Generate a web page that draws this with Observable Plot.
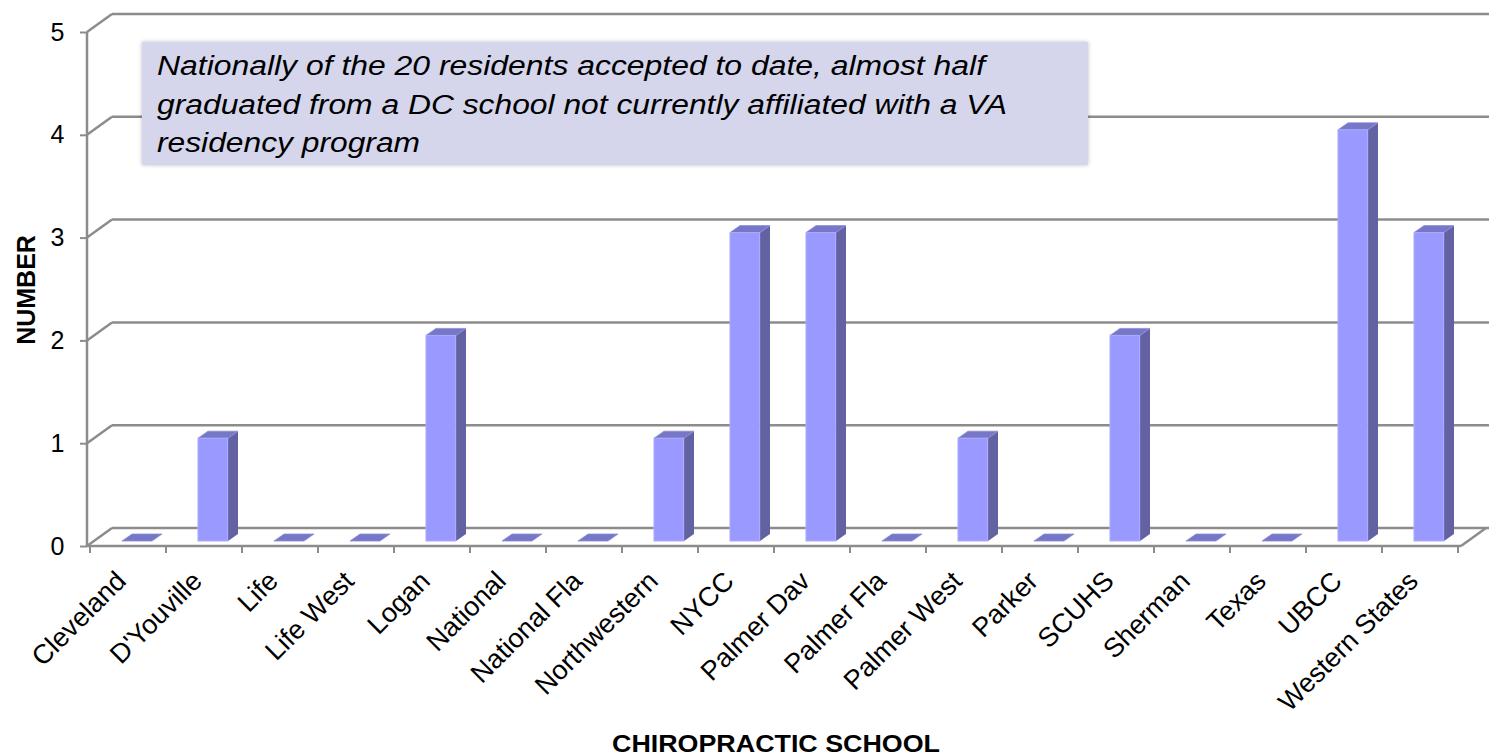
<!DOCTYPE html>
<html><head><meta charset="utf-8">
<script src="https://cdn.jsdelivr.net/npm/d3@7"></script>
<script src="https://cdn.jsdelivr.net/npm/@observablehq/plot@0.6"></script>
<style>body{margin:0;background:#fff}</style>
</head><body><div id="chart"></div>
<script>
const schools = ["Cleveland","D'Youville","Life","Life West","Logan","National","National Fla","Northwestern","NYCC","Palmer Dav","Palmer Fla","Palmer West","Parker","SCUHS","Sherman","Texas","UBCC","Western States"];
const residents = [0,1,0,0,2,0,0,1,3,3,0,1,0,2,0,0,4,3];
const yTicks = [0,1,2,3,4,5];
const noteLines = ["Nationally of the 20 residents accepted to date, almost half","graduated from a DC school not currently affiliated with a VA","residency program"];
const xTitle = "CHIROPRACTIC SCHOOL";
const yTitle = "NUMBER";

const data = schools.map((s, i) => ({school: s, value: residents[i]}));

const FONT = "'Liberation Sans', Arial, sans-serif";
const GRID = "#8c8c8c";
const WALL = {dx: 25, dy: -18};
const BAR = {left: 32, width: 30, dy: -5, dx: 10, ddy: -7};

function bw(scales, dim) {
  return scales.x.bandwidth ? scales.x.bandwidth() : (dim.width - dim.marginLeft - dim.marginRight) / schools.length;
}

// back walls, gridlines, front axis lines and x ticks
function walls(index, scales, values, dim) {
  const g = d3.create("svg:g").attr("stroke", GRID).attr("stroke-width", 2.5).attr("fill", "none");
  const x0 = dim.marginLeft, x1 = dim.width - dim.marginRight;
  const y0 = scales.y(0);
  for (const t of yTicks) {
    const y = scales.y(t);
    g.append("line").attr("x1", x0).attr("y1", y).attr("x2", x0 + WALL.dx).attr("y2", y + WALL.dy);
    g.append("line").attr("x1", x0 + WALL.dx).attr("y1", y + WALL.dy).attr("x2", x1 + WALL.dx + 5).attr("y2", y + WALL.dy);
  }
  g.append("line").attr("x1", x1).attr("y1", y0).attr("x2", x1 + WALL.dx).attr("y2", y0 + WALL.dy);
  g.append("line").attr("x1", x0).attr("y1", scales.y(5)).attr("x2", x0).attr("y2", y0);
  g.append("line").attr("x1", x0).attr("y1", y0).attr("x2", x1).attr("y2", y0);
  const w = bw(scales, dim);
  for (let i = 0; i <= schools.length; i++) {
    const x = i < schools.length ? scales.x(schools[i]) : scales.x(schools[i - 1]) + w;
    g.append("line").attr("x1", x).attr("y1", y0).attr("x2", x).attr("y2", y0 + 7).attr("stroke-width", 2);
  }
  return g.node();
}

// side and top faces of 3D bars
function barSides(index, scales, values, dim) {
  const g = d3.create("svg:g");
  const y0 = scales.y(0) + BAR.dy;
  for (const d of data) {
    const xl = scales.x(d.school) + BAR.left, xr = xl + BAR.width;
    const yt = scales.y(d.value) + BAR.dy;
    if (d.value > 0) {
      g.append("path").attr("fill", "#6262a2")
        .attr("d", `M${xr},${yt}L${xr + BAR.dx},${yt + BAR.ddy}L${xr + BAR.dx},${y0 + BAR.ddy}L${xr},${y0}Z`);
    }
    g.append("path").attr("fill", "#7777c8").attr("stroke", "#8c8cdc").attr("stroke-width", 0.8)
      .attr("d", `M${xl},${yt}L${xl + BAR.dx},${yt + BAR.ddy}L${xr + BAR.dx},${yt + BAR.ddy}L${xr},${yt}Z`);
  }
  return g.node();
}

function annotations(index, scales, values, dim) {
  const g = d3.create("svg:g");
  g.append("rect").attr("x", 142).attr("y", 42).attr("width", 946).attr("height", 123)
    .attr("fill", "#d5d6ec").style("filter", "drop-shadow(0px 0px 2px rgba(0,0,0,0.25))");
  const lens = [828, 850, 263];
  const ys = [75, 113.5, 152];
  noteLines.forEach((t, i) => {
    g.append("text").attr("x", 157).attr("y", ys[i]).attr("text-anchor", "start").attr("font-family", FONT)
      .attr("font-size", 27).attr("font-style", "italic").attr("fill", "#000")
      .attr("textLength", lens[i]).attr("lengthAdjust", "spacingAndGlyphs").text(t);
  });
  g.append("text").attr("transform", "translate(35,290) rotate(-90)").attr("text-anchor", "middle")
    .attr("font-family", FONT).attr("font-size", 25).attr("font-weight", "bold").text(yTitle);
  g.append("text").attr("x", 776).attr("y", 752).attr("text-anchor", "middle")
    .attr("font-family", FONT).attr("font-size", 24).attr("font-weight", "bold")
    .attr("textLength", 328).attr("lengthAdjust", "spacingAndGlyphs").text(xTitle);
  return g.node();
}

const chart = Plot.plot({
  width: 1489,
  height: 755,
  marginLeft: 87,
  marginRight: 28,
  marginTop: 32,
  marginBottom: 209,
  style: {fontFamily: FONT, background: "#fff", overflow: "visible"},
  x: {type: "band", domain: schools, padding: 0, label: null},
  y: {domain: [0, 5], label: null},
  marks: [
    walls,
    barSides,
    Plot.barY(data, {x: "school", y: "value", fill: "#9999ff", stroke: "#aaaaff", strokeWidth: 1,
      insetLeft: BAR.left, insetRight: 76.33 - BAR.left - BAR.width, dy: BAR.dy}),
    Plot.axisY({ticks: yTicks, tickSize: 7, tickPadding: 16, fontSize: 25, stroke: GRID, strokeWidth: 2, fill: "#000", tickFormat: d3.format("d"), label: null}),
    Plot.axisX({tickSize: 0, tickPadding: 17, tickRotate: -45, fontSize: 27, fill: "#000", label: null, dx: -7, dy: 13}),
    annotations
  ]
});
document.getElementById("chart").appendChild(chart);
</script>
</body></html>
